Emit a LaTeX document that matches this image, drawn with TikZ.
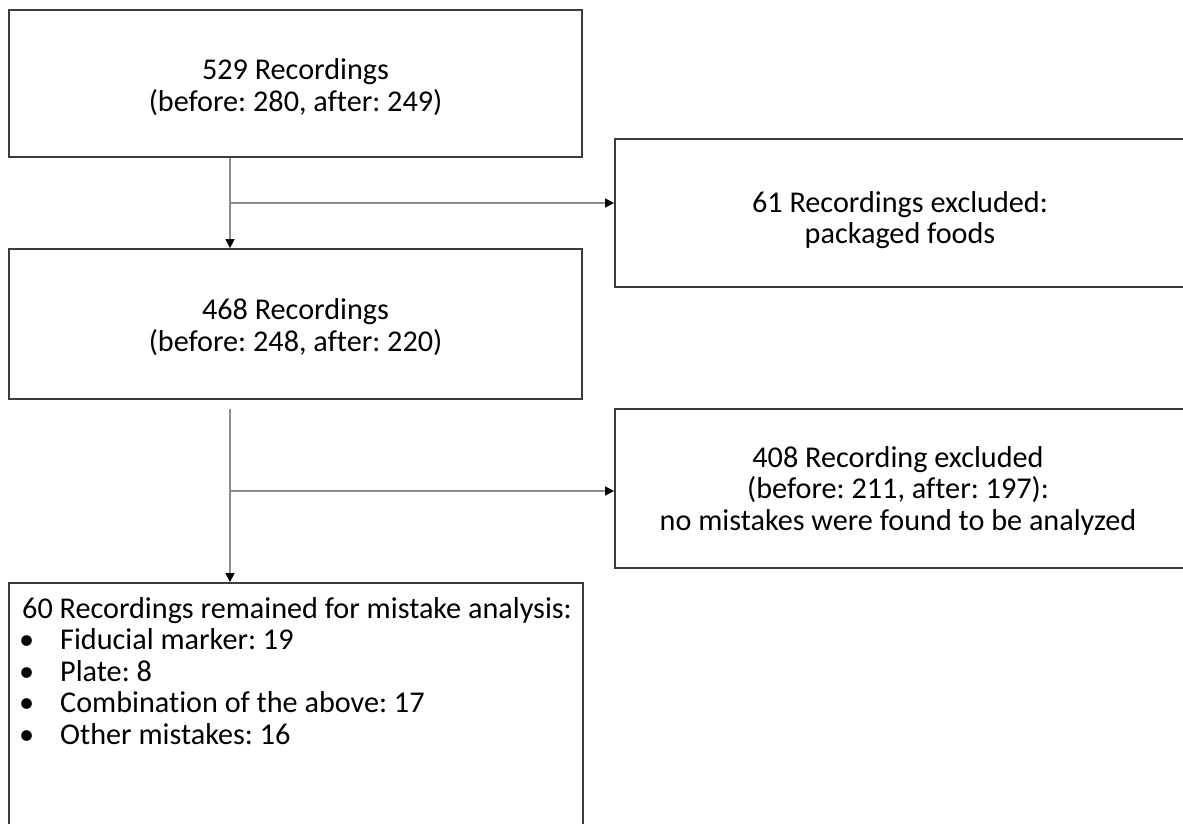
\documentclass[tikz,border=0pt]{standalone}
\usepackage{fontspec}
\setmainfont{Carlito}[Ligatures={NoCommon}]
\usetikzlibrary{arrows.meta}
\definecolor{boxline}{RGB}{60,60,60}
\definecolor{conn}{RGB}{140,140,140}
\tikzset{
  boxnode/.style={draw=boxline, line width=1.8pt, rectangle, inner sep=0pt},
  txtnode/.style={inner sep=0pt, align=center, font=\fontsize{30.2}{31.5}\selectfont\frenchspacing},
  flow/.style={draw=conn, line width=1.3pt, -{Triangle[length=9pt,width=9pt,color=black]}}
}
\newcommand{\bul}{\makebox[38pt][l]{\hspace*{-3pt}\textbullet}}
\begin{document}
\begin{tikzpicture}[x=1pt,y=-1pt]
\useasboundingbox (0,0) rectangle (1183,823);
% boxes
\node[boxnode, minimum width=573pt, minimum height=147pt] (b1) at (295.5,83.5) {};
\node[boxnode, minimum width=573pt, minimum height=150pt] (b2) at (295.5,324) {};
\node[boxnode, minimum width=571pt, minimum height=148pt] (b3) at (900.5,213) {};
\node[boxnode, minimum width=571pt, minimum height=159pt] (b4) at (900.5,488.5) {};
\node[boxnode, minimum width=574pt, minimum height=250pt] (b5) at (296,708) {};
% texts
\node[txtnode] (t1) at (295.5,87) {529 Recordings\\(before: 280, after: 249)};
\node[txtnode] (t2) at (295.5,327) {468 Recordings\\(before: 248, after: 220)};
\node[txtnode] (t3) at (900,220) {61 Recordings excluded:\\packaged foods};
\node[txtnode] (t4) at (898,490.5) {408 Recording excluded\\(before: 211, after: 197):\\no mistakes were found to be analyzed};
\node[txtnode, align=left, anchor=north west] (t5) at (22,597)
  {60 Recordings remained for mistake analysis:\\
   \bul Fiducial marker: 19\\
   \bul Plate: 8\\
   \bul Combination of the above: 17\\
   \bul Other mistakes: 16};
% junctions
\coordinate (j1) at (230,203);
\coordinate (j2) at (230,491);
\coordinate (s2) at (230,409);
% connectors
\draw[flow] (b1.south -| j1) -- (b2.north -| j1);
\draw[flow] (j1) -- (j1 -| b3.west);
\draw[flow] (s2) -- (b5.north -| s2);
\draw[flow] (j2) -- (j2 -| b4.west);
\end{tikzpicture}
\end{document}
